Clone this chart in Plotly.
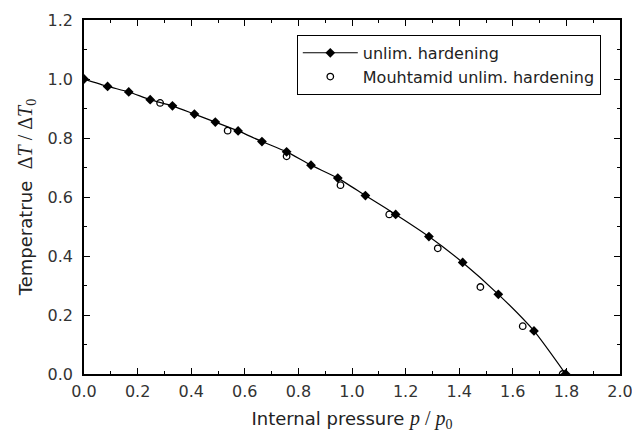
import plotly.graph_objects as go

# unlimited hardening (filled diamonds + line)
p_unlim = [0.0, 0.088, 0.167, 0.247, 0.330, 0.412, 0.490, 0.575, 0.664, 0.756,
           0.847, 0.947, 1.050, 1.163, 1.287, 1.413, 1.546, 1.679, 1.797]
t_unlim = [1.000, 0.975, 0.956, 0.930, 0.909, 0.881, 0.854, 0.824, 0.788, 0.753,
           0.708, 0.664, 0.605, 0.541, 0.466, 0.378, 0.270, 0.146, 0.000]

# Mouhtamid unlimited hardening (open circles)
p_mouh = [0.284, 0.536, 0.756, 0.957, 1.139, 1.320, 1.479, 1.637, 1.786]
t_mouh = [0.919, 0.825, 0.738, 0.640, 0.541, 0.426, 0.295, 0.162, 0.000]

x_ticks = [0.0, 0.2, 0.4, 0.6, 0.8, 1.0, 1.2, 1.4, 1.6, 1.8, 2.0]
y_ticks = [0.0, 0.2, 0.4, 0.6, 0.8, 1.0, 1.2]

font_main = "DejaVu Sans, Verdana, sans-serif"
serif = "Liberation Serif"

fig = go.Figure()
fig.add_trace(go.Scatter(
    x=p_unlim, y=t_unlim, mode="lines+markers", name="unlim. hardening",
    line=dict(color="black", width=1.2, shape="spline", smoothing=0.6),
    marker=dict(symbol="diamond", size=7.5, color="black"),
))
fig.add_trace(go.Scatter(
    x=p_mouh, y=t_mouh, mode="markers", name="Mouhtamid unlim. hardening",
    marker=dict(symbol="circle-open", size=6.5, color="black", line=dict(width=1.3)),
))

axis_common = dict(
    showline=True, linecolor="black", linewidth=1.5, mirror="allticks",
    ticks="inside", ticklen=6, tickwidth=1.2, tickcolor="black",
    showgrid=False, zeroline=False, automargin=False,
    ticklabeloverflow="allow",
    tickfont=dict(family=font_main, size=16, color="#333"),
    minor=dict(ticks="inside", ticklen=3, tickwidth=1, tickcolor="black", dtick=0.1),
)

fig.update_xaxes(
    range=[0, 2.0], tickvals=x_ticks, ticktext=[f"{v:.1f}" for v in x_ticks],
    ticklabelstandoff=2,
    title=dict(text=f"Internal pressure <span style=\"font-family:{serif};font-size:20px\"><i>p</i> / <i>p</i><sub>0</sub></span>",
               font=dict(family=font_main, size=18, color="#222"), standoff=12),
    **axis_common,
)
fig.update_yaxes(
    range=[0, 1.2], tickvals=y_ticks, ticktext=[f"{v:.1f}" for v in y_ticks],
    ticklabelstandoff=6,
    title=dict(text=f"Temperatrue  <span style=\"font-family:{serif};font-size:20px\">Δ<i>T</i> / Δ<i>T</i><sub>0</sub></span>",
               font=dict(family=font_main, size=18, color="#222"), standoff=10),
    **axis_common,
)

fig.update_layout(
    width=632, height=432,
    margin=dict(l=84, r=12, t=20, b=58),
    plot_bgcolor="white", paper_bgcolor="white",
    showlegend=True,
    legend=dict(
        x=0.397, y=0.958, xanchor="left", yanchor="top",
        bordercolor="black", borderwidth=1, bgcolor="white",
        font=dict(family=font_main, size=16, color="#222"),
        tracegroupgap=0, itemwidth=55,
    ),
)

fig.write_html("out.html")
